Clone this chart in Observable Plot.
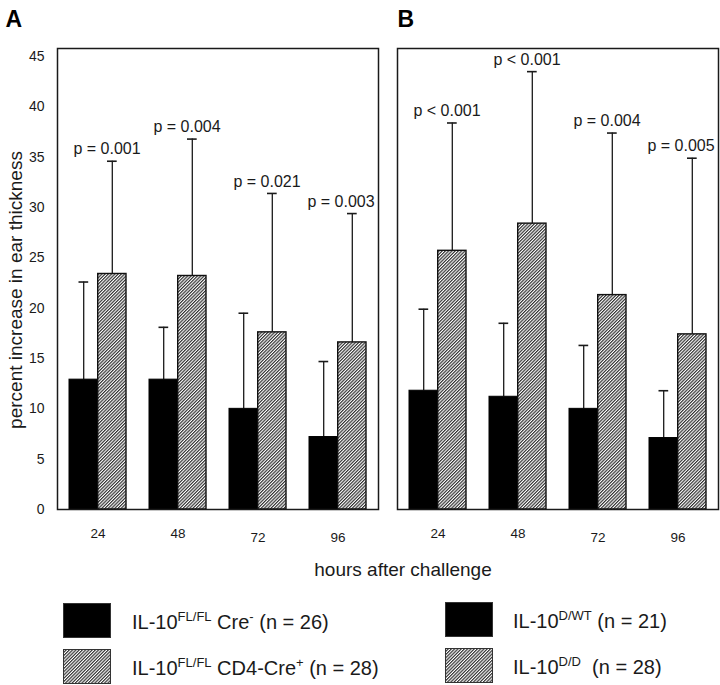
<!DOCTYPE html>
<html><head><meta charset="utf-8">
<script src="https://cdn.jsdelivr.net/npm/d3@7"></script>
<script src="https://cdn.jsdelivr.net/npm/@observablehq/plot@0.6"></script>
<style>
body{margin:0;background:#fff;font-family:"Liberation Sans",Arial,sans-serif;color:#1a1a1a}
#wrap{position:relative;width:720px;height:685px;overflow:hidden}
#chart{position:absolute;left:0;top:0}
.xl{position:absolute;left:303px;width:200px;top:558px;text-align:center;font-size:19px;line-height:24px;white-space:nowrap}
.sw{position:absolute;width:48px;height:35px}
.lt{position:absolute;font-size:20px;line-height:24px;white-space:nowrap}
.lt sup{font-size:13px;vertical-align:0;position:relative;top:-8px}
</style></head>
<body>
<svg width="0" height="0" style="position:absolute"><defs>
<pattern id="hatch" width="2.3" height="2.3" patternUnits="userSpaceOnUse" patternTransform="rotate(45)">
<rect width="2.3" height="2.3" fill="#fff"/>
<line x1="0.6" y1="0" x2="0.6" y2="2.3" stroke="#2a2a2a" stroke-width="1.15"/>
</pattern></defs></svg>
<div id="wrap">
<div id="chart"></div>
<div class="xl">hours after challenge</div>
<svg class="sw" style="left:63px;top:603px" viewBox="0 0 48 35"><rect x="0.5" y="0.5" width="47" height="34" fill="#000" stroke="#333"/></svg>
<svg class="sw" style="left:63px;top:649px" viewBox="0 0 48 35"><rect x="0.5" y="0.5" width="47" height="34" fill="url(#hatch)" stroke="#333"/></svg>
<div class="lt" style="left:132px;top:610px">IL-10<sup>FL/FL</sup> Cre<sup>-</sup> (n = 26)</div>
<div class="lt" style="left:132px;top:656px">IL-10<sup>FL/FL</sup> CD4-Cre<sup>+</sup> (n = 28)</div>
<svg class="sw" style="left:445px;top:602px" viewBox="0 0 48 35"><rect x="0.5" y="0.5" width="47" height="34" fill="#000" stroke="#333"/></svg>
<svg class="sw" style="left:445px;top:648px" viewBox="0 0 48 35"><rect x="0.5" y="0.5" width="47" height="34" fill="url(#hatch)" stroke="#333"/></svg>
<div class="lt" style="left:513px;top:609px">IL-10<sup>D/WT</sup> (n = 21)</div>
<div class="lt" style="left:513px;top:655px">IL-10<sup>D/D</sup>&nbsp; (n = 28)</div>
</div>
<script>
// ---- data ----
const panels = ["A", "B"];
const hours = [24, 48, 72, 96];
const yTicks = [0, 5, 10, 15, 20, 25, 30, 35, 40, 45];

// Panel A: IL-10 FL/FL Cre- (black) vs IL-10 FL/FL CD4-Cre+ (hatched)
const ctrlMeanA = [12.9, 12.9, 10.0, 7.2];
const ctrlUpperA = [22.6, 18.1, 19.5, 14.7];
const koMeanA = [23.4, 23.2, 17.6, 16.6];
const koUpperA = [34.6, 36.8, 31.4, 29.4];
const pLabelsA = ["p = 0.001", "p = 0.004", "p = 0.021", "p = 0.003"];

// Panel B: IL-10 D/WT (black) vs IL-10 D/D (hatched)
const ctrlMeanB = [11.8, 11.2, 10.0, 7.1];
const ctrlUpperB = [19.9, 18.5, 16.3, 11.8];
const koMeanB = [25.7, 28.4, 21.3, 17.4];
const koUpperB = [38.4, 43.5, 37.4, 34.9];
const pLabelsB = ["p < 0.001", "p < 0.001", "p = 0.004", "p = 0.005"];

const yLabel = "percent increase in ear thickness";

// ---- build tables ----
const src = {
  A: {cm: ctrlMeanA, cu: ctrlUpperA, km: koMeanA, ku: koUpperA, p: pLabelsA},
  B: {cm: ctrlMeanB, cu: ctrlUpperB, km: koMeanB, ku: koUpperB, p: pLabelsB}
};
const ctrl = [], ko = [];
for (const panel of panels) {
  const s = src[panel];
  hours.forEach((hour, i) => {
    ctrl.push({panel, hour, mean: s.cm[i], upper: s.cu[i]});
    ko.push({panel, hour, mean: s.km[i], upper: s.ku[i], p: s.p[i]});
  });
}

const ink = "#1a1a1a";
const chart = Plot.plot({
  width: 720,
  height: 560,
  marginLeft: 56,
  marginRight: 1,
  marginTop: 48,
  marginBottom: 51,
  style: {fontFamily: "'Liberation Sans', Arial, sans-serif", fontSize: "14px", color: ink, background: "transparent", overflow: "visible"},
  fx: {domain: panels, padding: 0.0557, axis: null, label: null},
  x: {domain: hours, paddingInner: 0.2875, paddingOuter: 0.144},
  y: {domain: [0, 45.8]},
  marks: [
    Plot.axisY({ticks: yTicks, tickSize: 0, tickPadding: 13, fontSize: 14, label: null, facetAnchor: "left"}),
    Plot.axisX({ticks: [24, 48], tickSize: 0, tickPadding: 19, fontSize: 13.5, label: null}),
    Plot.axisX({ticks: [72, 96], tickSize: 0, tickPadding: 23, fontSize: 13.5, label: null}),
    // error bars (upper only)
    Plot.ruleX(ctrl, {fx: "panel", x: "hour", y1: "mean", y2: "upper", dx: -14.3, stroke: ink, strokeWidth: 1.3}),
    Plot.ruleX(ko, {fx: "panel", x: "hour", y1: "mean", y2: "upper", dx: 14.3, stroke: ink, strokeWidth: 1.3}),
    Plot.tickY(ctrl, {fx: "panel", x: "hour", y: "upper", insetLeft: 9.5, insetRight: 37.8, stroke: ink, strokeWidth: 1.6}),
    Plot.tickY(ko, {fx: "panel", x: "hour", y: "upper", insetLeft: 38, insetRight: 9.3, stroke: ink, strokeWidth: 1.6}),
    // bars
    Plot.barY(ctrl, {fx: "panel", x: "hour", y: "mean", insetRight: 28.6, fill: "#000", stroke: "#000", strokeWidth: 1}),
    Plot.barY(ko, {fx: "panel", x: "hour", y: "mean", insetLeft: 28.7, fill: "url(#hatch)", stroke: "#111", strokeWidth: 1.4}),
    // p-value labels
    Plot.text(ko.filter(d => d.hour !== 96), {fx: "panel", x: "hour", y: "upper", text: "p", dx: 9, dy: -12, fontSize: 16, fill: ink}),
    Plot.text(ko.filter(d => d.hour === 96), {fx: "panel", x: "hour", y: "upper", text: "p", dx: 3, dy: -12, fontSize: 16, fill: ink}),
    // panel frames
    Plot.frame({stroke: ink, strokeWidth: 1.5}),
    // panel letters
    Plot.text([{panel: "A"}], {fx: "panel", text: "panel", frameAnchor: "top-left", textAnchor: "start", lineAnchor: "bottom", dx: -52, dy: -22, fontSize: 23, fontWeight: "bold", fill: "#000"}),
    Plot.text([{panel: "B"}], {fx: "panel", text: "panel", frameAnchor: "top-left", textAnchor: "start", lineAnchor: "bottom", dx: 0, dy: -22, fontSize: 23, fontWeight: "bold", fill: "#000"}),
    // y-axis title
    Plot.text([{panel: "A"}], {fx: "panel", text: () => yLabel, frameAnchor: "left", textAnchor: "middle", rotate: -90, dx: -42, dy: 11, fontSize: 19, fill: ink})
  ]
});
document.getElementById("chart").appendChild(chart);
</script>
</body></html>
